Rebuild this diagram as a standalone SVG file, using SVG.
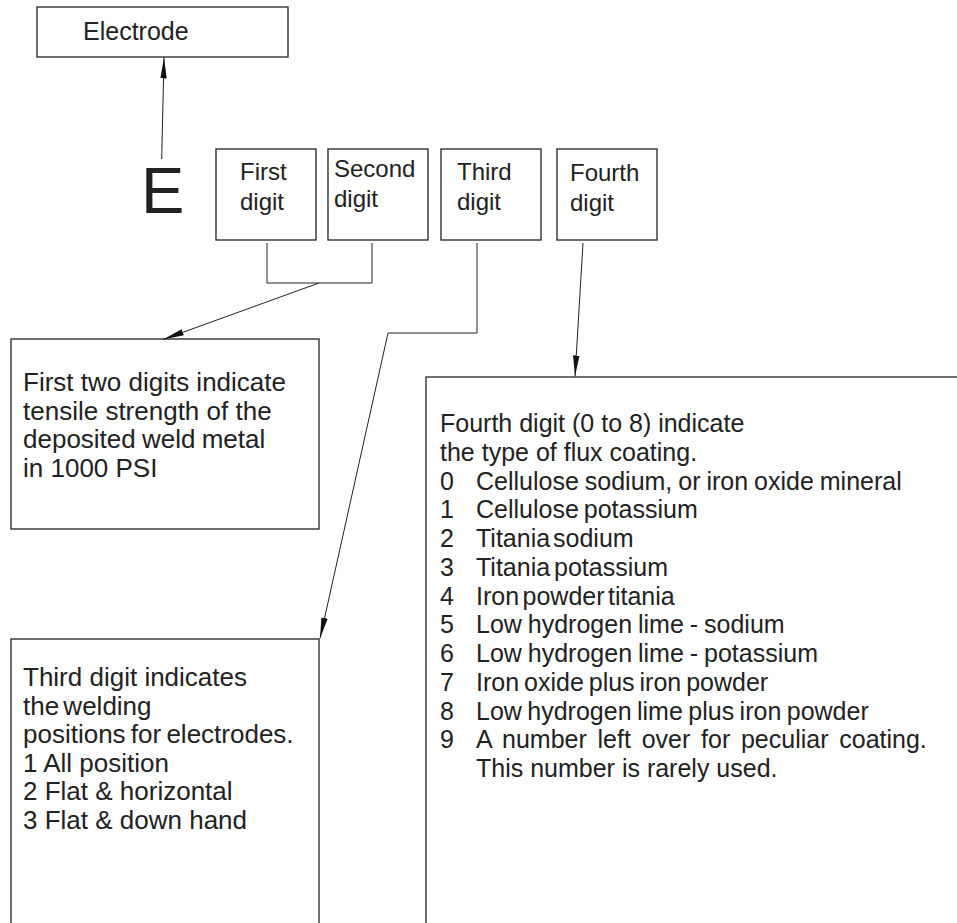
<svg xmlns="http://www.w3.org/2000/svg" width="957" height="923" viewBox="0 0 957 923">
<defs>
<style>
.box{fill:#fff;stroke:#222;stroke-width:1.3}
.ln{fill:none;stroke:#222;stroke-width:1}
.t{font-family:"Liberation Sans",Arial,sans-serif;font-size:25px;fill:#222}
.b{font-family:"Liberation Sans",Arial,sans-serif;font-size:26px;fill:#222}
.s{font-family:"Liberation Sans",Arial,sans-serif;font-size:24px;fill:#222}
</style>
<marker id="ah" markerUnits="userSpaceOnUse" markerWidth="22" markerHeight="8" refX="21" refY="4" orient="auto">
<path d="M0,0.8 L21,4 L0,7.2 z" fill="#111"/>
</marker>
</defs>
<rect width="957" height="923" fill="#fff"/>
<g id="electrode">
<rect class="box" x="37" y="7" width="251" height="50"/>
<text class="t" x="83" y="40">Electrode</text>
</g>
<g id="e-letter">
<text x="141" y="213" style="font-family:'Liberation Sans',Arial,sans-serif;font-size:65px;fill:#222">E</text>
</g>
<g id="first-digit">
<rect class="box" x="216" y="149" width="100" height="91"/>
<text class="s" x="240" y="180">First</text>
<text class="s" x="240" y="210">digit</text>
</g>
<g id="second-digit">
<rect class="box" x="328" y="149" width="100" height="91"/>
<text class="s" x="334" y="177">Second</text>
<text class="s" x="334" y="207">digit</text>
</g>
<g id="third-digit">
<rect class="box" x="441" y="149" width="100" height="91"/>
<text class="s" x="457" y="180">Third</text>
<text class="s" x="457" y="210">digit</text>
</g>
<g id="fourth-digit">
<rect class="box" x="557" y="149" width="100" height="91"/>
<text class="s" x="570" y="181">Fourth</text>
<text class="s" x="570" y="211">digit</text>
</g>
<g id="tensile-box">
<rect class="box" x="11" y="339" width="308" height="190"/>
<text class="b" x="23" y="391">First two digits indicate</text>
<text class="b" x="23" y="420">tensile strength of the</text>
<text class="b" x="23" y="448" word-spacing="-1">deposited weld metal</text>
<text class="b" x="23" y="477">in 1000 PSI</text>
</g>
<g id="position-box">
<rect class="box" x="11" y="639" width="308" height="300"/>
<text class="b" x="23" y="686">Third digit indicates</text>
<text class="b" x="23" y="714.6" word-spacing="-3">the welding</text>
<text class="b" x="23" y="743.2" word-spacing="-2">positions for electrodes.</text>
<text class="b" x="23" y="771.8">1 All position</text>
<text class="b" x="23" y="800.4">2 Flat &amp; horizontal</text>
<text class="b" x="23" y="829">3 Flat &amp; down hand</text>
</g>
<g id="coating-box">
<rect class="box" x="426" y="377" width="560" height="560"/>
<text class="t" x="440" y="432">Fourth digit (0 to 8) indicate</text>
<text class="t" x="440" y="460.75">the type of flux coating.</text>
<text class="t" y="489.5"><tspan x="440">0</tspan><tspan x="476" word-spacing="-1">Cellulose sodium, or iron oxide mineral</tspan></text>
<text class="t" y="518.25"><tspan x="440">1</tspan><tspan x="476" word-spacing="-2">Cellulose potassium</tspan></text>
<text class="t" y="547"><tspan x="440">2</tspan><tspan x="476" word-spacing="-4">Titania sodium</tspan></text>
<text class="t" y="575.75"><tspan x="440">3</tspan><tspan x="476" word-spacing="-3">Titania potassium</tspan></text>
<text class="t" y="604.5"><tspan x="440">4</tspan><tspan x="476" word-spacing="-3.5">Iron powder titania</tspan></text>
<text class="t" y="633.25"><tspan x="440">5</tspan><tspan x="476" word-spacing="-1">Low hydrogen lime - sodium</tspan></text>
<text class="t" y="662"><tspan x="440">6</tspan><tspan x="476" word-spacing="-1">Low hydrogen lime - potassium</tspan></text>
<text class="t" y="690.75"><tspan x="440">7</tspan><tspan x="476" word-spacing="-2">Iron oxide plus iron powder</tspan></text>
<text class="t" y="719.5"><tspan x="440">8</tspan><tspan x="476" word-spacing="-1.5">Low hydrogen lime plus iron powder</tspan></text>
<text class="t" y="748.25"><tspan x="440">9</tspan><tspan x="476" word-spacing="3.8">A number left over for peculiar coating.</tspan></text>
<text class="t" x="476" y="777">This number is rarely used.</text>
</g>
<g id="connectors">
<line class="ln" x1="161.7" y1="159" x2="164" y2="57.5" marker-end="url(#ah)"/>
<polyline class="ln" points="267,243 267,283 372,283 372,243"/>
<line class="ln" x1="319" y1="283" x2="163" y2="339.5" marker-end="url(#ah)"/>
<polyline class="ln" points="477,243 477,333 388,333 320,638.5" marker-end="url(#ah)"/>
<line class="ln" x1="583" y1="243" x2="575" y2="376.5" marker-end="url(#ah)"/>
</g>
</svg>
